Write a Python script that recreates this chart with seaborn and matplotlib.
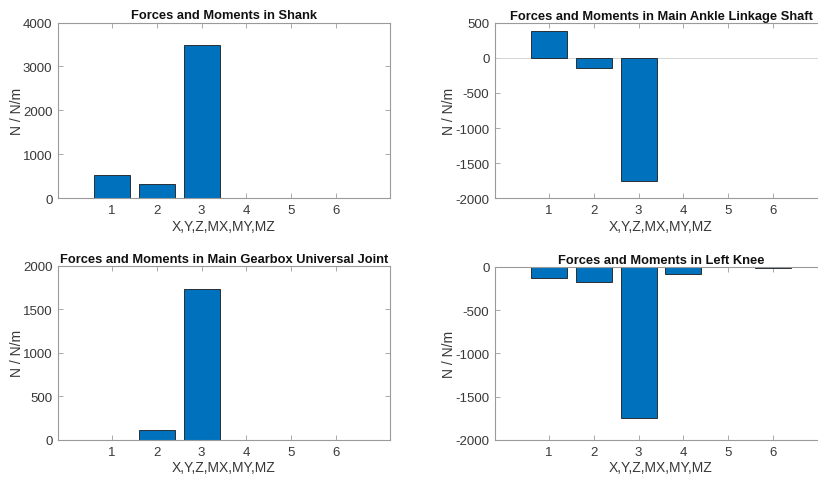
import numpy as np
import pandas as pd
import matplotlib
matplotlib.use("Agg")
import matplotlib.pyplot as plt
import seaborn as sns

# Component index: X, Y, Z forces and MX, MY, MZ moments
components = [1, 2, 3, 4, 5, 6]

shank = [525, 318, 3490, 0, 0, 0]
ankle_shaft = [388, -138, -1752, 0, 0, 0]
gearbox_joint = [0, 117, 1735, 0, 0, 0]
left_knee = [-135, -173, -1745, -80, 0, -10]

titles = [
    "Forces and Moments in Shank",
    "Forces and Moments in Main Ankle Linkage Shaft",
    "Forces and Moments in Main Gearbox Universal Joint",
    "Forces and Moments in Left Knee",
]
ylims = [(0, 4000), (-2000, 500), (0, 2000), (-2000, 0)]
yticks = [
    [0, 1000, 2000, 3000, 4000],
    [-2000, -1500, -1000, -500, 0, 500],
    [0, 500, 1000, 1500, 2000],
    [-2000, -1500, -1000, -500, 0],
]
xlabel = "X,Y,Z,MX,MY,MZ"
ylabel = "N / N/m"

BAR_COLOR = "#0072BD"
AXIS_COLOR = "#9a9a9a"
TEXT_COLOR = "#383838"

sns.set_theme(style="white")
plt.rcParams["font.family"] = ["Liberation Sans", "DejaVu Sans"]

W, H = 818, 481
fig = plt.figure(figsize=(W / 100, H / 100), dpi=100)


def px_axes(left, top, right, bottom):
    return fig.add_axes([left / W, 1 - bottom / H, (right - left) / W, (bottom - top) / H])


boxes = [
    (58, 23.5, 390, 199.3),
    (495, 23.7, 827, 199.3),
    (58, 266.7, 390, 441),
    (495, 267.7, 827, 441),
]
series = [shank, ankle_shaft, gearbox_joint, left_knee]

for box, vals, title, yl, yt in zip(boxes, series, titles, ylims, yticks):
    ax = px_axes(*box)
    df = pd.DataFrame({"component": components, "value": vals})
    sns.barplot(data=df, x="component", y="value", native_scale=True,
                color=BAR_COLOR, saturation=1, width=0.8,
                edgecolor="#1a1a1a", linewidth=0.6, ax=ax, zorder=2)
    for patch in ax.patches:
        patch.set_facecolor(BAR_COLOR)
        if patch.get_height() == 0:
            patch.set_linewidth(0)
    # bar baseline
    ax.axhline(0, color="#d0d0d0", lw=0.6, zorder=1)
    ax.set_xlim(-0.2, 7.2)
    ax.set_ylim(*yl)
    ax.set_xticks(components)
    ax.set_xticklabels([str(c) for c in components])
    ax.set_yticks(yt)
    ax.set_yticklabels([str(v) for v in yt])
    ax.set_title(title, fontsize=9.3, fontweight="bold", color="#111111", pad=3)
    ax.set_xlabel(xlabel, fontsize=10, color=TEXT_COLOR, labelpad=2)
    ax.set_ylabel(ylabel, fontsize=10, color=TEXT_COLOR, labelpad=-0.5)
    ax.tick_params(axis="both", which="both", direction="in", length=3.5, width=0.6,
                   color=AXIS_COLOR, labelcolor=TEXT_COLOR, labelsize=9.5,
                   top=True, right=True, bottom=True, left=True, pad=4)
    for sp in ax.spines.values():
        sp.set_visible(True)
        sp.set_color(AXIS_COLOR)
        sp.set_linewidth(0.8)
        sp.set_zorder(3)
    ax.set_facecolor("white")

fig.savefig("out.png", dpi=100, facecolor="white")
